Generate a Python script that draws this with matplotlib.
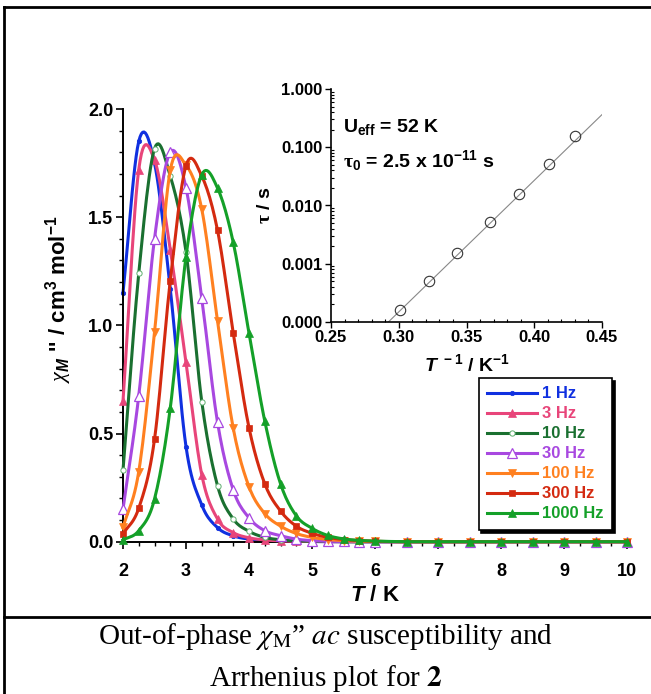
#!/usr/bin/env python3
import numpy as np
import matplotlib
matplotlib.use('Agg')
import matplotlib.pyplot as plt
from matplotlib.lines import Line2D
from matplotlib.ticker import MultipleLocator, FuncFormatter, LogLocator, NullFormatter

plt.rcParams['font.family'] = 'Liberation Sans'
plt.rcParams['mathtext.fontset'] = 'custom'
plt.rcParams['mathtext.rm'] = 'Liberation Sans:bold'
plt.rcParams['mathtext.it'] = 'Liberation Sans:bold:italic'
plt.rcParams['mathtext.bf'] = 'Liberation Sans:bold'
plt.rcParams['mathtext.sf'] = 'Liberation Serif:italic'
plt.rcParams['mathtext.cal'] = 'Liberation Serif:bold'

# out-of-phase chi'' vs T for each frequency
T = [2.0, 2.25, 2.5, 2.75, 3.0, 3.25, 3.5, 3.75, 4.0, 4.25, 4.5, 4.75, 5.0,
     5.25, 5.5, 5.75, 6.0, 6.5, 7.0, 7.5, 8.0, 8.5, 9.0, 9.5, 10.0]
chi_1Hz = [1.15, 1.85, 1.75, 1.17, 0.44, 0.17, 0.065, 0.027, 0.012, 0.006, 0.003, 0.002, 0.001,
           0, 0, 0, 0, 0, 0, 0, 0, 0, 0, 0, 0]
chi_3Hz = [0.65, 1.72, 1.765, 1.35, 0.83, 0.31, 0.105, 0.042, 0.018, 0.008, 0.004, 0.002, 0.001,
           0, 0, 0, 0, 0, 0, 0, 0, 0, 0, 0, 0]
chi_10Hz = [0.33, 1.24, 1.816, 1.69, 1.34, 0.648, 0.259, 0.105, 0.048, 0.02, 0.009, 0.004, 0.002,
            0.001, 0, 0, 0, 0, 0, 0, 0, 0, 0, 0, 0]
chi_30Hz = [0.151, 0.674, 1.40, 1.80, 1.635, 1.126, 0.552, 0.239, 0.11, 0.051, 0.028, 0.012, 0.005,
            0.002, 0.001, 0, 0, 0, 0, 0, 0, 0, 0, 0, 0]
chi_100Hz = [0.066, 0.324, 0.967, 1.716, 1.74, 1.537, 1.022, 0.524, 0.254, 0.13, 0.072, 0.038, 0.02,
             0.01, 0.005, 0.002, 0.001, 0, 0, 0, 0, 0, 0, 0, 0]
chi_300Hz = [0.036, 0.155, 0.473, 1.206, 1.738, 1.69, 1.44, 0.964, 0.527, 0.268, 0.142, 0.072, 0.039,
             0.02, 0.01, 0.005, 0.002, 0, 0, 0, 0, 0, 0, 0, 0]
chi_1000Hz = [0.008, 0.051, 0.197, 0.617, 1.318, 1.696, 1.635, 1.383, 0.964, 0.558, 0.268, 0.12, 0.062,
              0.029, 0.013, 0.006, 0.003, 0, 0, 0, 0, 0, 0, 0, 0]

freq_labels = ['1 Hz', '3 Hz', '10 Hz', '30 Hz', '100 Hz', '300 Hz', '1000 Hz']
colors = ['#1030e0', '#e8457a', '#1a7030', '#a848e0', '#ff8020', '#d42a10', '#14a028']

# Arrhenius plot
invT = [0.301, 0.322, 0.343, 0.367, 0.389, 0.411, 0.430]
tau = [1.6e-4, 5.1e-4, 1.55e-3, 5.2e-3, 0.0155, 0.051, 0.158]
Ueff = 52.0
tau0 = 2.5e-11


# smooth connecting line (Origin-style spline connect) through the read points
def spline(x, y, n=12):
    x = np.asarray(x, float)
    y = np.asarray(y, float)
    m = np.gradient(y, x)
    xs, ys = [], []
    t = np.linspace(0, 1, n, endpoint=False)
    for i in range(len(x) - 1):
        h = x[i + 1] - x[i]
        h00 = 2 * t**3 - 3 * t**2 + 1
        h10 = t**3 - 2 * t**2 + t
        h01 = -2 * t**3 + 3 * t**2
        h11 = t**3 - t**2
        xs.append(x[i] + t * h)
        ys.append(h00 * y[i] + h10 * h * m[i] + h01 * y[i + 1] + h11 * h * m[i + 1])
    xs.append([x[-1]])
    ys.append([y[-1]])
    return np.concatenate(xs), np.clip(np.concatenate(ys), 0, None)


W, H = 651, 694
fig = plt.figure(figsize=(W / 100, H / 100), dpi=100)
ax = fig.add_axes([123 / W, 1 - 541.7 / H, 504 / W, 432.7 / H])

series = [chi_1Hz, chi_3Hz, chi_10Hz, chi_30Hz, chi_100Hz, chi_300Hz, chi_1000Hz]
mstyles = [
    dict(marker='o', ms=3.2, mfc=colors[0], mec=colors[0], mew=0.5),
    dict(marker='^', ms=5.4, mfc=colors[1], mec=colors[1], mew=0.5),
    dict(marker='o', ms=3.8, mfc='white', mec='#60b070', mew=0.7),
    dict(marker='^', ms=6.5, mfc='white', mec=colors[3], mew=0.9),
    dict(marker='v', ms=5.4, mfc=colors[4], mec=colors[4], mew=0.5),
    dict(marker='s', ms=4.3, mfc=colors[5], mec=colors[5], mew=0.5),
    dict(marker='^', ms=6.0, mfc=colors[6], mec=colors[6], mew=0.5),
]
handles = []
for k, vals in enumerate(series):
    xs, ys = spline(T, vals)
    ax.plot(xs, ys, color=colors[k], lw=2.2, zorder=2 + k, clip_on=False)
    ax.plot(T, vals, ls='none', zorder=2.5 + k, clip_on=False, **mstyles[k])
    handles.append(Line2D([], [], color=colors[k], lw=2.2, **mstyles[k]))

ax.set_xlim(2, 10)
ax.set_ylim(0, 2.0)
ax.spines['top'].set_visible(False)
ax.spines['right'].set_visible(False)
for s in ('left', 'bottom'):
    ax.spines[s].set_linewidth(1.4)
ax.xaxis.set_major_locator(MultipleLocator(1))
ax.xaxis.set_minor_locator(MultipleLocator(0.25))
ax.yaxis.set_major_locator(MultipleLocator(0.5))
ax.yaxis.set_minor_locator(MultipleLocator(0.1))
ax.yaxis.set_major_formatter(FuncFormatter(lambda v, p: '%.1f' % v))
ax.tick_params(which='major', length=5, width=1.2, labelsize=13)
ax.tick_params(which='minor', length=3, width=1.0)
ax.tick_params(axis='x', which='major', pad=10)
ax.tick_params(axis='y', which='major', pad=2)
plt.setp(ax.get_xticklabels() + ax.get_yticklabels(), fontweight='bold')
ax.set_xlabel('$T$ / K', fontsize=16, fontweight='bold', labelpad=4)
ax.set_ylabel(r"$\mathsf{\chi}_{M}$ '' / cm$^{3}$ mol$^{-1}$", fontsize=16, fontweight='bold')
ax.yaxis.set_label_coords(-0.097, 0.56)

leg = ax.legend(handles, freq_labels, loc='upper right', bbox_to_anchor=(0.97, 0.378),
                borderaxespad=0, prop={'weight': 'bold', 'size': 12}, handlelength=3.0,
                handletextpad=0.3, labelspacing=0.3, borderpad=0.5, fancybox=False,
                shadow={'color': 'black', 'alpha': 1.0}, framealpha=1)
leg.get_frame().set_edgecolor('black')
leg.get_frame().set_linewidth(1.2)
for txt, c in zip(leg.get_texts(), colors):
    txt.set_color(c)

# inset: Arrhenius plot
ax2 = fig.add_axes([331 / W, 1 - 322 / H, 271 / W, 233 / H])
ax2.set_yscale('log')
ax2.set_xlim(0.25, 0.45)
ax2.set_ylim(1e-4, 1)
xf = np.linspace(0.25, 0.45, 50)
ax2.plot(xf, tau0 * np.exp(Ueff * xf), color='#888888', lw=0.8)
ax2.plot(invT, tau, ls='none', marker='o', ms=7.5, mfc='none', mec='#333333', mew=0.8)
ax2.spines['top'].set_visible(False)
ax2.spines['right'].set_visible(False)
for s in ('left', 'bottom'):
    ax2.spines[s].set_linewidth(1.2)
ax2.xaxis.set_major_locator(MultipleLocator(0.05))
ax2.xaxis.set_minor_locator(MultipleLocator(0.01))
ax2.xaxis.set_major_formatter(FuncFormatter(lambda v, p: '%.2f' % v))
ax2.yaxis.set_major_locator(LogLocator(base=10, numticks=10))
ax2.yaxis.set_minor_locator(LogLocator(base=10, subs=np.arange(2, 10), numticks=10))
ax2.yaxis.set_major_formatter(FuncFormatter(lambda v, p: '%.3f' % v))
ax2.yaxis.set_minor_formatter(NullFormatter())
ax2.tick_params(which='major', direction='out', length=4, width=1.0, labelsize=12, pad=2)
ax2.tick_params(which='minor', direction='in', length=2.5, width=0.8)
plt.setp(ax2.get_xticklabels() + ax2.get_yticklabels(), fontweight='bold')
ax2.set_xlabel('$T^{\\ -1}$ / K$^{-1}$', fontsize=14, fontweight='bold', labelpad=6)
ax2.set_ylabel(r'$\mathcal{\tau}$ / s', fontsize=14, fontweight='bold', labelpad=5)
ax2.text(0.045, 0.815, r'U$_{\mathrm{eff}}$ = 52 K', transform=ax2.transAxes, fontsize=14,
         fontweight='bold', va='baseline')
ax2.text(0.045, 0.665, r'$\mathcal{\tau}_{\mathrm{0}}$ = 2.5 x 10$^{\mathrm{-11}}$ s',
         transform=ax2.transAxes, fontsize=14, fontweight='bold', va='baseline')

# frame and caption
lx = 4 / W
fig.add_artist(Line2D([lx, lx], [0, 1 - 7 / H], transform=fig.transFigure, color='k', lw=2))
fig.add_artist(Line2D([lx, 1], [1 - 7 / H, 1 - 7 / H], transform=fig.transFigure, color='k', lw=2))
fig.add_artist(Line2D([lx, 1], [1 - 617 / H, 1 - 617 / H], transform=fig.transFigure, color='k', lw=2))
fig.text(0.5, 1 - 637 / H, 'Out-of-phase $\\chi_{\\mathrm{M}}$\u201d $\\mathit{ac}$ susceptibility and',
         ha='center', va='center', family='Liberation Serif', fontsize=21,
         math_fontfamily='stix')
fig.text(0.5, 1 - 678 / H, 'Arrhenius plot for $\\mathbf{2}$', ha='center', va='center',
         family='Liberation Serif', fontsize=21, math_fontfamily='stix')

fig.savefig('out.png', dpi=100)
